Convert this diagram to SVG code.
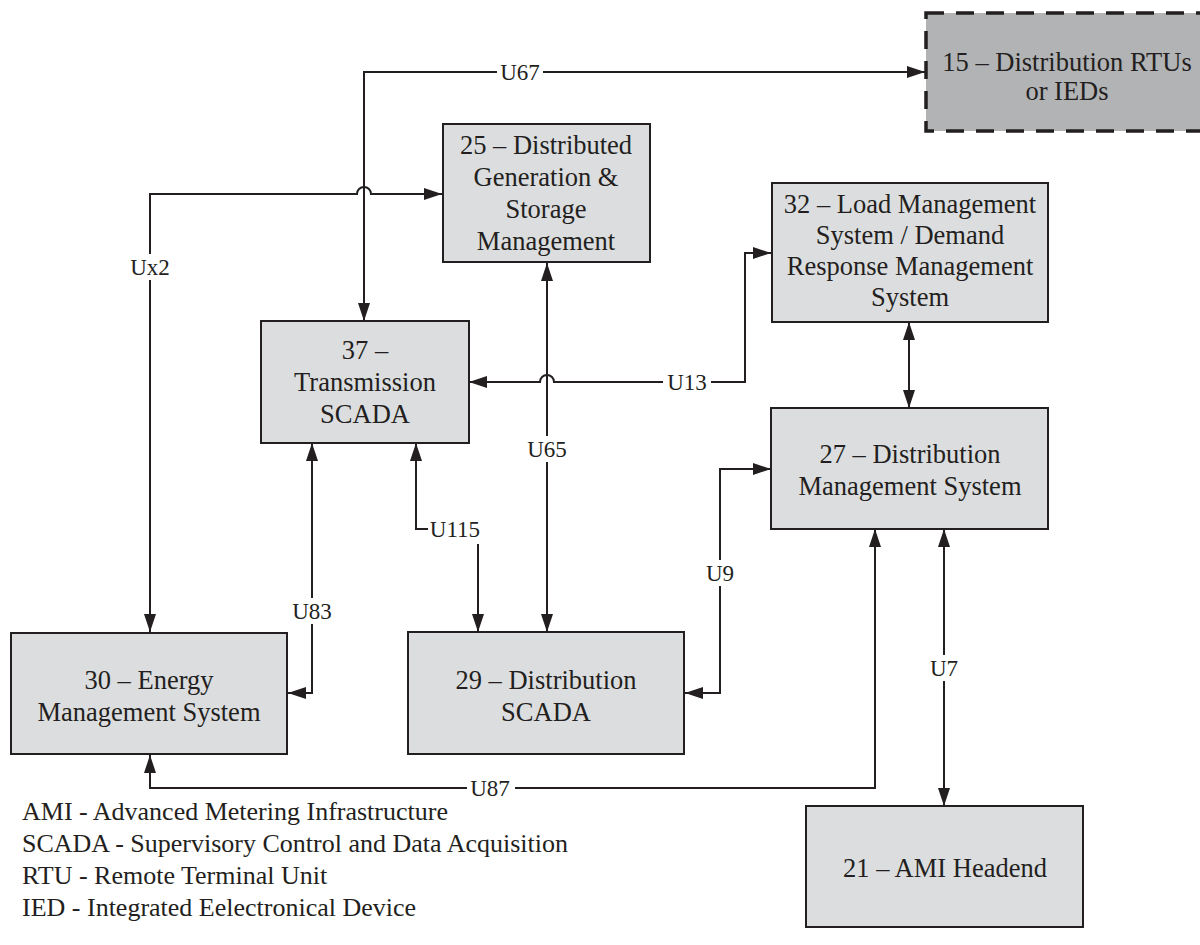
<svg xmlns="http://www.w3.org/2000/svg" width="1200" height="945" viewBox="0 0 1200 945">
<style>
.box{fill:#dcdddf;stroke:#231f20;stroke-width:2}
.dash{fill:#b2b3b5;stroke:#231f20;stroke-width:3.5;stroke-dasharray:18 12}
.t{font-family:'Liberation Serif','DejaVu Serif',serif;font-size:26.5px;fill:#231f20;text-anchor:middle}
.lg{font-family:'Liberation Serif','DejaVu Serif',serif;font-size:26px;fill:#231f20}
.c{fill:none;stroke:#231f20;stroke-width:2;marker-start:url(#ah);marker-end:url(#ah)}
.lb{font-family:'Liberation Serif','DejaVu Serif',serif;font-size:23px;fill:#231f20;text-anchor:middle}
.bg{fill:#ffffff}
</style>
<defs>
<marker id="ah" viewBox="0 0 18 12" refX="18" refY="6" markerWidth="18" markerHeight="12" markerUnits="userSpaceOnUse" orient="auto-start-reverse">
<path d="M0,0 L18,6 L0,12 Z" fill="#231f20"/>
</marker>
</defs>
<rect width="1200" height="945" fill="#ffffff"/>
<g id="connectors">
<path class="c" d="M364,321 V72 H925"/>
<path class="c" d="M150,632 V194 H357 A7,7 0 0 1 371,194 H442"/>
<path class="c" d="M469,382 H540 A7,7 0 0 1 554,382 H745 V253 H771"/>
<path class="c" d="M547,263 V632"/>
<path class="c" d="M312,443 V693 H288"/>
<path class="c" d="M416,443 V529 H478 V632"/>
<path class="c" d="M685,693 H720 V469 H771"/>
<path class="c" d="M909,322 V408"/>
<path class="c" d="M150,755 V788 H875 V529"/>
<path class="c" d="M944,529 V806"/>
<rect class="bg" x="497" y="60" width="46" height="24"/><text class="lb" x="520" y="80">U67</text>
<rect class="bg" x="127" y="254" width="46" height="26"/><text class="lb" x="150" y="275">Ux2</text>
<rect class="bg" x="663" y="370" width="48" height="24"/><text class="lb" x="687" y="390">U13</text>
<rect class="bg" x="524" y="436" width="46" height="26"/><text class="lb" x="547" y="457">U65</text>
<rect class="bg" x="289" y="598" width="46" height="26"/><text class="lb" x="312" y="619">U83</text>
<rect class="bg" x="428" y="516" width="56" height="28"/><text class="lb" x="455" y="537">U115</text>
<rect class="bg" x="705" y="560" width="30" height="26"/><text class="lb" x="720" y="581">U9</text>
<rect class="bg" x="467" y="776" width="48" height="24"/><text class="lb" x="490" y="796">U87</text>
<rect class="bg" x="929" y="655" width="30" height="26"/><text class="lb" x="944" y="676">U7</text>
</g>
<g id="n15"><rect class="dash" x="926" y="13" width="290" height="118"/><text class="t" x="1067" y="71">15 – Distribution RTUs</text><text class="t" x="1067" y="100">or IEDs</text></g>
<g id="n25"><rect class="box" x="443" y="124" width="207" height="138"/><text class="t" x="546" y="154">25 – Distributed</text><text class="t" x="546" y="186">Generation &amp;</text><text class="t" x="546" y="218">Storage</text><text class="t" x="546" y="250">Management</text></g>
<g id="n32"><rect class="box" x="772" y="183" width="276" height="139"/><text class="t" x="910" y="213">32 – Load Management</text><text class="t" x="910" y="244">System / Demand</text><text class="t" x="910" y="275">Response Management</text><text class="t" x="910" y="306">System</text></g>
<g id="n37"><rect class="box" x="261" y="321" width="208" height="122"/><text class="t" x="365" y="359">37 –</text><text class="t" x="365" y="391">Transmission</text><text class="t" x="365" y="423">SCADA</text></g>
<g id="n27"><rect class="box" x="771" y="408" width="277" height="121"/><text class="t" x="910" y="463">27 – Distribution</text><text class="t" x="910" y="495">Management System</text></g>
<g id="n30"><rect class="box" x="11" y="633" width="276" height="121"/><text class="t" x="149" y="689">30 – Energy</text><text class="t" x="149" y="721">Management System</text></g>
<g id="n29"><rect class="box" x="408" y="632" width="276" height="122"/><text class="t" x="546" y="689">29 – Distribution</text><text class="t" x="546" y="721">SCADA</text></g>
<g id="n21"><rect class="box" x="806" y="806" width="277" height="121"/><text class="t" x="945" y="877">21 – AMI Headend</text></g>
<g id="legend">
<text class="lg" x="22" y="820">AMI - Advanced Metering Infrastructure</text>
<text class="lg" x="22" y="852">SCADA - Supervisory Control and Data Acquisition</text>
<text class="lg" x="22" y="884">RTU - Remote Terminal Unit</text>
<text class="lg" x="22" y="916">IED - Integrated Eelectronical Device</text>
</g>
</svg>
